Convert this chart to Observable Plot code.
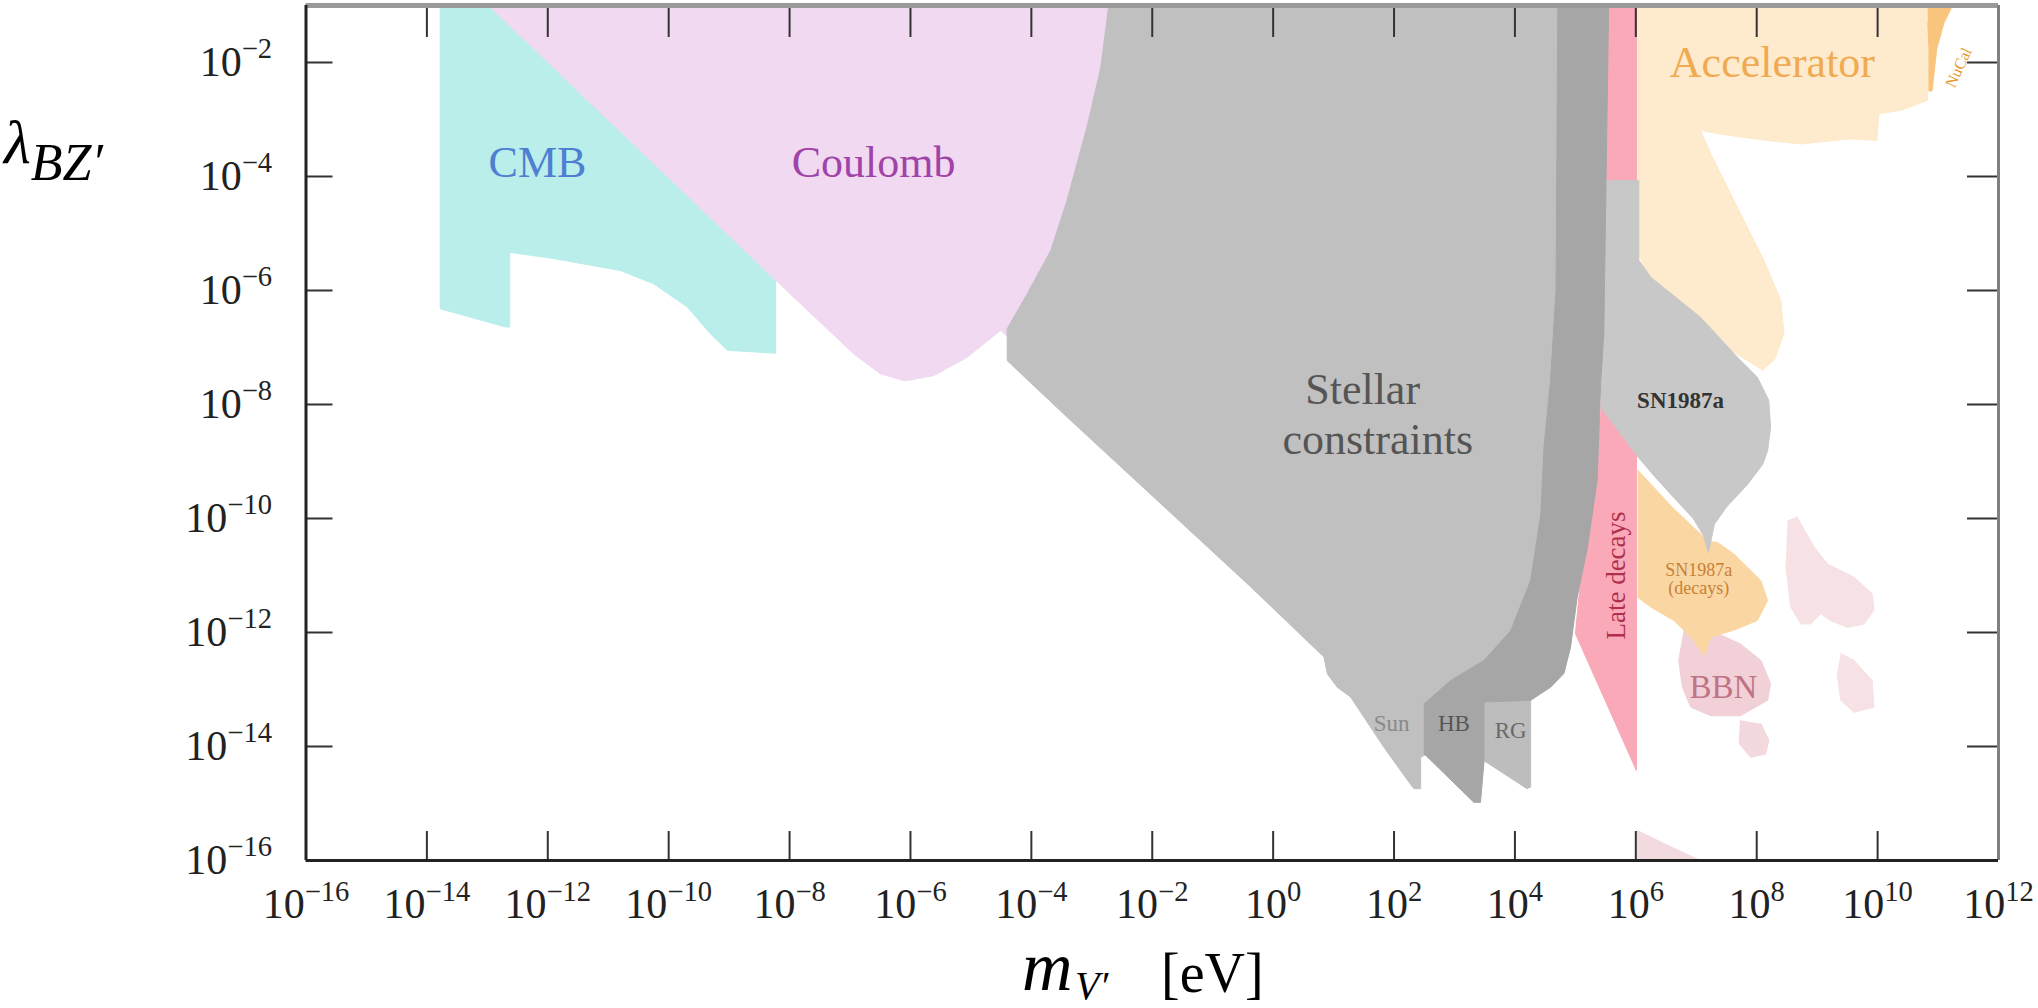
<!DOCTYPE html>
<html><head><meta charset="utf-8">
<script src="https://cdn.jsdelivr.net/npm/d3@7"></script>
<script src="https://cdn.jsdelivr.net/npm/@observablehq/plot@0.6"></script>
<style>html,body{margin:0;padding:0;background:#fff;} svg{display:block}</style>
</head><body><div id="chart"></div>
<script>
// Tick exponents (log10)
const xTickExps = [-16,-14,-12,-10,-8,-6,-4,-2,0,2,4,6,8,10,12];
const yTickExps = [-16,-14,-12,-10,-8,-6,-4,-2];

// Region outlines as [log10 m_V' (eV), log10 lambda] pairs
const cmbPts = [[-13.78,-1],[-13.78,-6.32],[-12.70,-6.64],[-12.63,-6.64],[-12.63,-5.33],[-11.90,-5.44],[-10.80,-5.65],[-10.25,-5.88],[-9.69,-6.29],[-9.31,-6.76],[-9.03,-7.05],[-8.23,-7.10],[-8.23,-5.82],[-8.23,-1]];
const coulombPts = [[-12.98,-1],[-8.23,-5.82],[-6.94,-7.11],[-6.50,-7.46],[-6.11,-7.58],[-6.05,-7.58],[-5.61,-7.49],[-5.06,-7.17],[-4.51,-6.70],[-4.3,-6.9],[-3.9,-6.0],[-3.5,-5.0],[-3.0,-4.0],[-2.6,-2.5],[-2.5,-1]];
const sunPts = [[-2.72,-1],[-2.85,-2.08],[-3.08,-3.13],[-3.41,-4.42],[-3.68,-5.30],[-4.07,-6.06],[-4.40,-6.67],[-4.40,-7.23],[-3.41,-8.22],[-0.37,-11.20],[0.84,-12.43],[0.90,-12.73],[1.06,-12.96],[1.28,-13.13],[1.83,-14.01],[2.27,-14.66],[2.33,-14.74],[2.44,-14.74],[2.44,-14.19],[2.6,-14.1],[2.6,-13.2],[3.1,-12.8],[3.7,-12.4],[4.1,-11.85],[4.35,-11.0],[4.55,-9.9],[4.6,-8.75],[4.7,-7.58],[4.8,-6],[4.85,-1]];
const rgPts = [[3.49,-13.22],[4.26,-13.19],[4.26,-14.71],[4.20,-14.74],[3.49,-14.25]];
const hbPts = [[4.71,-1],[4.68,-6],[4.59,-7.58],[4.48,-8.75],[4.43,-9.92],[4.26,-11.09],[3.93,-11.97],[3.49,-12.49],[2.94,-12.84],[2.50,-13.25],[2.50,-14.13],[3.32,-14.98],[3.43,-14.98],[3.49,-14.25],[3.49,-13.22],[4.26,-13.19],[4.59,-12.96],[4.81,-12.72],[4.92,-12.26],[5.03,-11.38],[5.20,-10.50],[5.36,-9.33],[5.42,-7.58],[5.47,-6.75],[5.55,-1]];
const latePts = [[5.50,-1],[6.01,-1],[6.01,-14.42],[5.00,-12.02],[5.14,-10.50],[5.42,-8.16],[5.45,-6.0]];
const snPts = [[5.45,-4.07],[6.05,-4.07],[6.05,-5.47],[6.25,-5.77],[7.07,-6.47],[7.68,-7.17],[8.01,-7.52],[8.20,-7.93],[8.23,-8.40],[8.18,-8.81],[8.10,-9.05],[7.85,-9.40],[7.50,-9.80],[7.30,-10.1],[7.20,-10.6],[7.12,-10.3],[6.95,-10.0],[6.60,-9.6],[6.30,-9.25],[6.02,-8.9],[5.42,-8.05]];
const accelPts = [[5.9,-1],[10.99,-1],[10.91,-1.61],[10.85,-2.32],[10.82,-2.67],[10.38,-2.84],[10.02,-2.90],[9.99,-3.37],[9.55,-3.34],[8.73,-3.43],[8.18,-3.37],[7.35,-3.25],[7.07,-3.19],[7.24,-3.60],[7.68,-4.54],[8.12,-5.47],[8.40,-6.18],[8.45,-6.76],[8.30,-7.2],[8.10,-7.40],[7.5,-7.0],[6.3,-6.0],[5.9,-5.0]];
const nucalPts = [[10.83,-1],[11.24,-1],[11.1,-1.3],[10.98,-1.75],[10.90,-2.5],[10.85,-2.5],[10.85,-1.75],[10.83,-1.3]];
const snDecayPts = [[6.03,-9.15],[6.6,-9.8],[7.0,-10.2],[7.2,-10.4],[7.35,-10.42],[7.62,-10.62],[8.07,-11.09],[8.18,-11.44],[8.01,-11.79],[7.62,-11.96],[7.24,-12.08],[7.13,-12.4],[6.91,-12.08],[6.63,-11.79],[6.24,-11.55],[6.03,-11.38]];
const bbnMainPts = [[6.80,-11.96],[6.71,-12.49],[6.77,-12.96],[6.91,-13.31],[7.24,-13.46],[7.73,-13.46],[8.18,-13.19],[8.23,-12.90],[8.07,-12.49],[7.73,-12.20],[7.24,-11.96]];
const bbnDropPts = [[7.73,-13.54],[7.71,-13.95],[7.90,-14.19],[8.15,-14.13],[8.20,-13.89],[8.07,-13.60]];
const bbnWPts = [[8.51,-10.04],[8.67,-9.98],[8.95,-10.50],[9.17,-10.80],[9.61,-11.03],[9.91,-11.32],[9.94,-11.61],[9.78,-11.85],[9.50,-11.91],[9.22,-11.79],[9.06,-11.67],[8.89,-11.85],[8.73,-11.85],[8.56,-11.55],[8.48,-10.80]];
const bbnR2Pts = [[9.39,-12.37],[9.61,-12.49],[9.91,-12.84],[9.94,-13.31],[9.61,-13.40],[9.39,-13.19],[9.33,-12.72]];
const bbnLowPts = [[6.02,-15.47],[6.5,-15.72],[7.07,-16],[6.02,-16]];

// Region labels: [text, log10 m, log10 lambda, colour]
const bigLabels = [["CMB",-12.17,-3.77,"#4f7fd2"],["Coulomb",-6.61,-3.77,"#a043a8"],["Stellar",1.48,-7.74,"#555555"],["constraints",1.73,-8.62,"#555555"],["Accelerator",8.26,-2.0,"#f0aa52"]];
const smallLabels = [["Sun",1.96,-13.6,"#8a8a8a"],["HB",2.99,-13.6,"#555555"],["RG",3.93,-13.72,"#6a6a6a"]];
const snLabel = ["SN1987a",6.74,-7.93];
const snDecayLabel = ["SN1987a\n(decays)",7.04,-11.07];
const lateLabel = ["Late decays",5.68,-11.0];
const bbnLabel = ["BBN",7.45,-12.96];
const nucalLabel = ["NuCal",11.34,-2.09];

const P = ([a,b]) => ({m: 10**a, l: 10**b});
const poly = (pts, fill) => Plot.line(pts.map(P), {x:"m", y:"l", fill, stroke: fill, strokeWidth: 1, clip: true});
const lab = (arr, opts) => Plot.text(arr.map(([t,a,b,c]) => ({t, m:10**a, l:10**b, c})), {x:"m", y:"l", text:"t", fontFamily:"Liberation Serif", clip:true, ...opts});

const W = 2038, H = 1008;
const mL = 305.5, mR = 40, mT = 5, mB = 148;
const innerW = W - mL - mR, innerH = H - mT - mB;
const xTicks = xTickExps.map(e => 10**e);
const yTicks = yTickExps.map(e => 10**e);
const xInner = xTicks.slice(1, -1);
const yInner = yTicks.slice(1);
const fmt = d => "10^" + Math.round(Math.log10(d));

const plot = Plot.plot({
  width: W, height: H,
  marginLeft: mL, marginRight: mR, marginTop: mT, marginBottom: mB,
  x: {type: "log", domain: [1e-16, 1e12]},
  y: {type: "log", domain: [1e-16, 1e-1]},
  style: {fontFamily: "Liberation Serif", background: "#fff"},
  marks: [
    poly(cmbPts, "#b9eeea"),
    poly(coulombPts, "#f1d9f1"),
    poly(sunPts, "#c0c0c0"),
    poly(rgPts, "#bdbdbd"),
    poly(accelPts, "#feeacd"),
    poly(nucalPts, "#f9c47c"),
    poly(bbnLowPts, "#f3dadf"),
    poly(bbnWPts, "#f6e1e4"),
    poly(bbnR2Pts, "#f6e1e4"),
    poly(bbnMainPts, "#f1d0d8"),
    poly(bbnDropPts, "#f3d8de"),
    poly(snDecayPts, "#fad7a2"),
    poly(latePts, "#f9a9b8"),
    poly(snPts, "#c8c8c8"),
    poly(hbPts, "#a6a6a6"),
    // labels
    lab(bigLabels, {fill: d => d.c, fontSize: 44}),
    lab(smallLabels, {fill: d => d.c, fontSize: 23}),
    lab([snLabel], {fill: "#333", fontSize: 23, fontWeight: "bold"}),
    lab([snDecayLabel], {fill: "#c88038", fontSize: 18, lineHeight: 1.0}),
    lab([lateLabel], {fill: "#b02f4c", fontSize: 27, rotate: -90}),
    lab([bbnLabel], {fill: "#c07385", fontSize: 33}),
    lab([nucalLabel], {fill: "#e8982c", fontSize: 16, rotate: -65}),
    // inward ticks
    Plot.ruleX(xInner, {x: d => d, insetTop: innerH - 29, stroke: "#333", strokeWidth: 2}),
    Plot.ruleX(xInner, {x: d => d, insetBottom: innerH - 32, stroke: "#333", strokeWidth: 2}),
    Plot.ruleY(yInner, {y: d => d, insetRight: innerW - 27, stroke: "#333", strokeWidth: 2}),
    Plot.ruleY(yInner, {y: d => d, insetLeft: innerW - 31, stroke: "#333", strokeWidth: 2}),
    // frame
    Plot.ruleY([1e-1], {stroke: "#9a9a9a", strokeWidth: 5}),
    Plot.ruleX([1e12], {stroke: "#808080", strokeWidth: 3}),
    Plot.ruleX([1e-16], {stroke: "#222", strokeWidth: 3}),
    Plot.ruleY([1e-16], {stroke: "#222", strokeWidth: 3}),
    // tick labels
    Plot.axisX({ticks: xTicks, tickSize: 0, tickPadding: 28, tickFormat: fmt, fontSize: 42, color: "#222", label: null}),
    Plot.axisY({ticks: yTicks, tickSize: 0, tickPadding: 34, tickFormat: fmt, fontSize: 42, color: "#222", label: null})
  ]
});

const svg = d3.select(plot);
svg.selectAll('g[aria-label="x-axis tick label"] text, g[aria-label="y-axis tick label"] text').each(function() {
  const s = this.textContent;
  if (!s.includes("^")) return;
  const [b, e] = s.split("^");
  const t = d3.select(this);
  t.text(null);
  t.append("tspan").text(b);
  t.append("tspan").attr("font-size", "0.68em").attr("dy", "-0.62em").text(e.replace("-", "\u2212"));
});

// Axis titles
const yt = svg.append("text").attr("x", 4).attr("y", 163).attr("text-anchor", "start").attr("font-family", "Liberation Serif").attr("font-style", "italic").attr("font-size", 62).attr("fill", "#000");
yt.append("tspan").text("λ");
yt.append("tspan").attr("font-size", 52).attr("dy", 17).text("BZ\u2032");

svg.append("text").attr("x", 1022).attr("y", 990).attr("text-anchor", "start").attr("font-family", "Liberation Serif").attr("font-style", "italic").attr("font-size", 70).attr("fill", "#000").text("m");
svg.append("text").attr("x", 1075).attr("y", 999).attr("text-anchor", "start").attr("font-family", "Liberation Serif").attr("font-style", "italic").attr("font-size", 40).attr("fill", "#000").text("V\u2032");
svg.append("text").attr("x", 1161).attr("y", 992).attr("text-anchor", "start").attr("font-family", "Liberation Serif").attr("font-size", 56).attr("fill", "#000").text("[eV]");

document.getElementById("chart").appendChild(plot);
</script>
</body></html>
